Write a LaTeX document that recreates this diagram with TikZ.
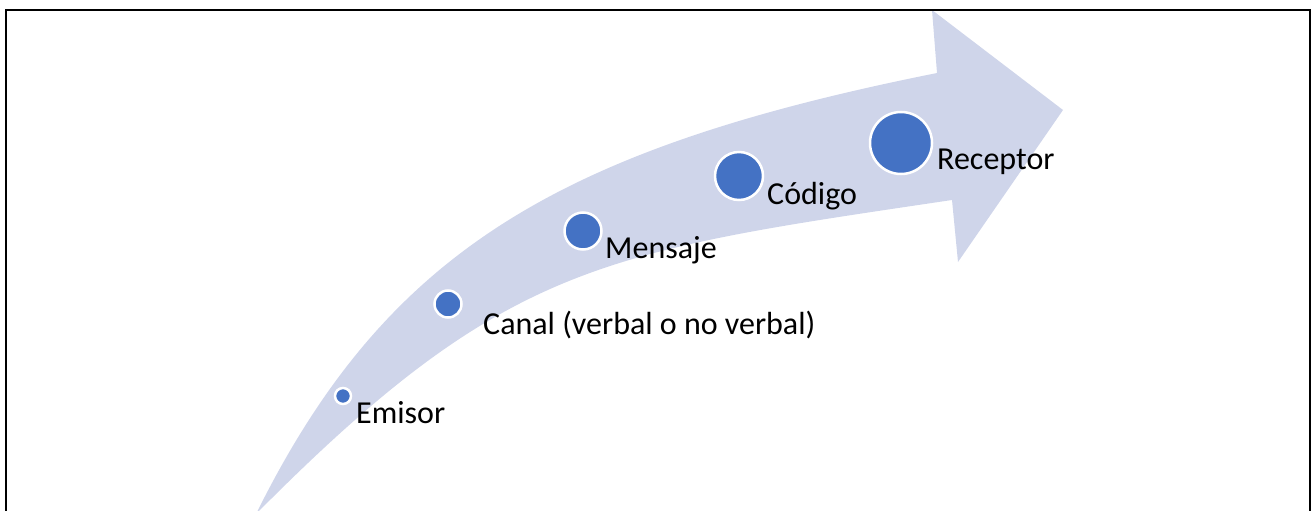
\documentclass[tikz,border=0pt]{standalone}
\usepackage{fontspec}
\setmainfont{Carlito}
\definecolor{arrowfill}{HTML}{CFD5EA}
\definecolor{dotfill}{HTML}{4472C4}
\begin{document}
\begin{tikzpicture}[x=1pt,y=-1pt,
  dot/.style={circle,fill=dotfill,draw=white,line width=2.5pt,inner sep=0pt},
  lbl/.style={anchor=base west,inner sep=0pt,font=\fontsize{32}{38}\selectfont,text=black}]
\useasboundingbox (0,0) rectangle (1314,511);
% curved arrow
\fill[arrowfill] (256,514) .. controls (386,252) and (557,149) .. (937,73)
  -- (932,10) -- (1063,110) -- (958,262) -- (952,200)
  .. controls (602,252) and (506,262) .. (256,514) -- cycle;
% frame
\draw[line width=1.8pt] (6,520) -- (6,10) -- (1310,10) -- (1310,520);
% dots
\node[dot,minimum size=16pt] (c1) at (343,396) {};
\node[dot,minimum size=27pt] (c2) at (448,304) {};
\node[dot,minimum size=37pt] (c3) at (583,231) {};
\node[dot,minimum size=48pt] (c4) at (739,176) {};
\node[dot,minimum size=62pt] (c5) at (901,143) {};
% labels
\node[lbl] (t1) at (356,423) {Emisor};
\node[lbl] (t2) at (483,334) {Canal (verbal o no verbal)};
\node[lbl] (t3) at (605,258) {Mensaje};
\node[lbl] (t4) at (767,204) {Código};
\node[lbl] (t5) at (937,169) {Receptor};
\end{tikzpicture}
\end{document}
